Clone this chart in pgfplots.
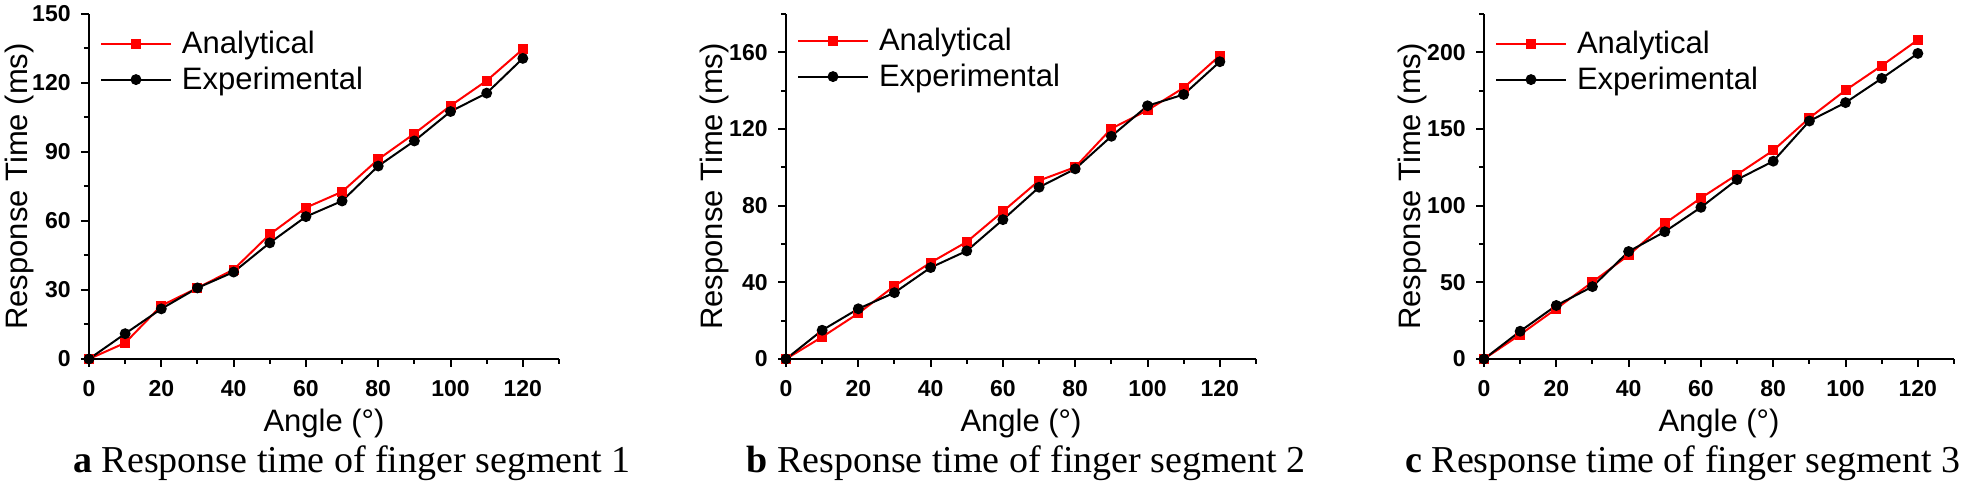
\documentclass[border=0pt]{standalone}
\usepackage{pgfplots}
\pgfplotsset{compat=1.18}
\usepackage{fontspec}
\setmainfont{Liberation Sans}
\newfontfamily\capfont{Liberation Serif}

\pgfplotstableread{
x   ana    exp
0   0      0
10  7.0    11.0
20  23.2   21.8
30  30.9   30.9
40  38.9   37.8
50  54.2   50.5
60  65.8   61.9
70  72.7   68.7
80  86.8   83.9
90  98.0   94.8
100 110.1  107.6
110 121.0  115.6
120 134.7  130.7
}\dataA

\pgfplotstableread{
x   ana    exp
0   0      0
10  11.5   15.0
20  23.8   26.2
30  38.1   34.6
40  50.3   47.7
50  61.1   56.4
60  77.0   72.7
70  93.1   89.6
80  100.1  99.2
90  120.2  116.2
100 129.8  132.1
110 141.5  138.0
120 158.3  155.1
}\dataB

\pgfplotstableread{
x   ana    exp
0   0      0
10  15.9   18.1
20  32.8   34.9
30  50.2   47.2
40  67.7   70.1
50  88.4   83.0
60  105.0  98.9
70  120.3  117.0
80  136.0  129.0
90  157.2  155.2
100 175.3  167.2
110 191.3  183.0
120 208.1  199.3
}\dataC

\pgfplotsset{
  panel/.style={
    width=235pt, height=172.5pt, scale only axis,
    anchor=south west, clip=false,
    axis lines=left,
    axis line style={line width=1pt, -},
    xmin=0, xmax=130, ymin=0,
    xtick={0,20,...,120}, minor xtick={10,30,...,130},
    tick align=outside,
    major tick length=4pt, minor tick length=2.5pt,
    every tick/.style={line width=1pt, black},
    every minor tick/.style={line width=1pt, black},
    /pgf/number format/assume math mode=true,
    ticklabel style={font=\fontsize{11.5}{12}\selectfont\bfseries},
    xticklabel style={anchor=north, inner sep=0pt, yshift=-6.5pt},
    yticklabel style={anchor=east, inner sep=0pt, xshift=-5pt},
    xlabel={Angle (°)},
    ylabel={Response Time (ms)},
    xlabel style={font=\fontsize{15.5}{16}\selectfont, inner sep=0pt,
      at={(axis description cs:0.5,0)}, anchor=base, yshift=-36.5pt},
    ylabel style={font=\fontsize{15.5}{16}\selectfont, inner sep=0pt,
      at={([xshift=-30.5pt]axis description cs:0,0.5)}, anchor=base},
    legend cell align=left,
    legend image code/.code={\draw[mark repeat=2, mark phase=2, #1]
      plot coordinates {(0pt,0pt) (17.5pt,0pt) (35pt,0pt)};},
    legend style={draw=none, fill=none, inner sep=0pt, outer sep=0pt,
      at={(axis description cs:0,1)}, anchor=north west,
      xshift=5.5pt, yshift=-8.7pt,
      font=\fontsize{15.5}{16}\selectfont,
      nodes={inner sep=0pt},
      row sep=5pt,
      /tikz/every odd column/.append style={column sep=5pt}},
  },
  ana/.style={red, line width=1pt, mark=square*, mark size=2pt,
    mark options={solid, fill=red, draw=red}},
  expe/.style={black, line width=1pt, mark=*, mark size=2.2pt,
    mark options={solid, fill=black, draw=black}},
}

\begin{document}
\begin{tikzpicture}
\path[use as bounding box] (0,0) rectangle (980.5pt,245.5pt);

\begin{axis}[panel, at={(44.5pt,66pt)}, ymax=150,
  ytick={0,30,...,150}, minor ytick={15,45,...,135}]
\addplot[ana] table[x=x, y=ana] {\dataA};
\addlegendentry{Analytical}
\addplot[expe] table[x=x, y=exp] {\dataA};
\addlegendentry{Experimental}
\end{axis}

\begin{axis}[panel, at={(393pt,66pt)}, ymax=180,
  ytick={0,40,...,160}, minor ytick={20,60,...,180},
  ylabel style={at={([xshift=-32pt]axis description cs:0,0.5)}},
  legend style={yshift=1.5pt}]
\addplot[ana] table[x=x, y=ana] {\dataB};
\addlegendentry{Analytical}
\addplot[expe] table[x=x, y=exp] {\dataB};
\addlegendentry{Experimental}
\end{axis}

\begin{axis}[panel, at={(742pt,66pt)}, ymax=225,
  ytick={0,50,...,200}, minor ytick={25,75,...,225},
  ylabel style={at={([xshift=-32pt]axis description cs:0,0.5)}}]
\addplot[ana] table[x=x, y=ana] {\dataC};
\addlegendentry{Analytical}
\addplot[expe] table[x=x, y=exp] {\dataC};
\addlegendentry{Experimental}
\end{axis}

\node[anchor=base west, inner sep=0pt, font=\capfont\fontsize{19}{20}\selectfont]
  at (36.5pt,9pt) {\textbf{a} Response time of finger segment 1};
\node[anchor=base west, inner sep=0pt, font=\capfont\fontsize{19}{20}\selectfont]
  at (373pt,9pt) {\textbf{b} Response time of finger segment 2};
\node[anchor=base west, inner sep=0pt, font=\capfont\fontsize{19}{20}\selectfont]
  at (702.5pt,9pt) {\textbf{c} Response time of finger segment 3};
\end{tikzpicture}
\end{document}
